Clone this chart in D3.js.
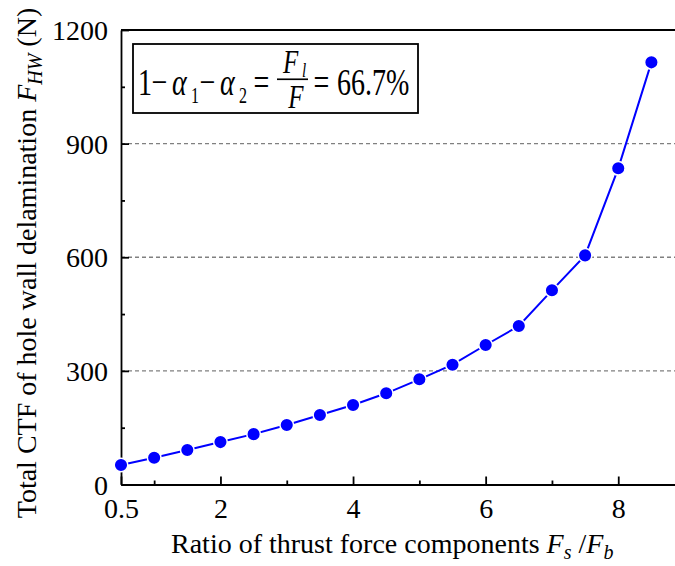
<!DOCTYPE html>
<html><head><meta charset="utf-8">
<script src="https://cdn.jsdelivr.net/npm/d3@7"></script>
<style>
html,body{margin:0;padding:0;background:#fff;}
#chart text, #chart tspan { font-family: 'Liberation Serif' !important; }
</style></head>
<body>
<svg id="chart" width="675" height="566" style="font-family:'Liberation Serif'"></svg>
<script>
// ---- data ----
const ratios = [0.5,1,1.5,2,2.5,3,3.5,4,4.5,5,5.5,6,6.5,7,7.5,8,8.5];
const ctfValues = [51.5,70.8,91,112,133,157,183.5,210,240.8,277.7,316.3,368.3,418.4,512.7,605,834.8,1114.6];
const xTickValues = [0.5,2,4,6,8];
const xTickLabels = ["0.5","2","4","6","8"];
const xMinorTicks = [1,3,5,7];
const yTickValues = [0,300,600,900,1200];
const yMinorTicks = [150,450,750,1050];
const gridValues = [300,600,900];

const svg = d3.select("#chart");
const plotLeft = 121, plotBottom = 484.5, plotTop = 30;
const unit = 66.3;
const x = d3.scaleLinear().domain([0.5, 9]).range([plotLeft, plotLeft + 8.5*unit]);
const y = d3.scaleLinear().domain([0, 1200]).range([plotBottom, plotTop]);
const plotRight = x(9);

// grid
svg.append("g").selectAll("line").data(gridValues).join("line")
  .attr("x1", plotLeft).attr("x2", plotRight)
  .attr("y1", d=>y(d)).attr("y2", d=>y(d))
  .attr("stroke", "#808080").attr("stroke-width", 1.3).attr("stroke-dasharray", "4,3");

// axes
const fs = 28;
const xAxis = d3.axisBottom(x).tickValues(xTickValues).tickFormat((d,i)=>xTickLabels[i])
  .tickSizeInner(-8).tickSizeOuter(0).tickPadding(14);
const gx = svg.append("g").attr("transform", `translate(0,${plotBottom})`).call(xAxis);
gx.selectAll("text").attr("font-size", fs).attr("dy", "0.71em");
const xMinor = d3.axisBottom(x).tickValues(xMinorTicks).tickFormat("").tickSizeInner(-4).tickSizeOuter(0);
svg.append("g").attr("transform", `translate(0,${plotBottom})`).call(xMinor).select(".domain").remove();

const yAxis = d3.axisLeft(y).tickValues(yTickValues).tickFormat(d3.format("d"))
  .tickSizeInner(-8).tickSizeOuter(0).tickPadding(13);
const gy = svg.append("g").attr("transform", `translate(${plotLeft},0)`).call(yAxis);
gy.selectAll("text").attr("font-size", fs).attr("dy", "0.34em");
const yMinor = d3.axisLeft(y).tickValues(yMinorTicks).tickFormat("").tickSizeInner(-4).tickSizeOuter(0);
svg.append("g").attr("transform", `translate(${plotLeft},0)`).call(yMinor).select(".domain").remove();

svg.selectAll(".domain, .tick line").attr("stroke", "#000").attr("stroke-width", 1.8);
svg.selectAll("g").attr("font-family", null);

// top border
svg.append("line").attr("x1", plotLeft).attr("x2", plotRight).attr("y1", y(1200)).attr("y2", y(1200))
  .attr("stroke", "#000").attr("stroke-width", 1.8);

// series
const pts = ratios.map((r,i)=>[r, ctfValues[i]]);
svg.append("path").datum(pts)
  .attr("d", d3.line().x(d=>x(d[0])).y(d=>y(d[1])))
  .attr("fill", "none").attr("stroke", "#0000ff").attr("stroke-width", 2);
svg.append("g").selectAll("circle").data(pts).join("circle")
  .attr("cx", d=>x(d[0])).attr("cy", d=>y(d[1])).attr("r", 6.8)
  .attr("fill", "#0000ff").attr("stroke", "#fff").attr("stroke-width", 1.5);

// axis titles
const xl = svg.append("text").attr("x", 171).attr("y", 553).attr("font-size", fs);
xl.append("tspan").text("Ratio of thrust force components ");
xl.append("tspan").attr("font-style", "italic").text("F");
xl.append("tspan").attr("font-style", "italic").attr("font-size", 20).attr("dy", 6).text("s");
xl.append("tspan").attr("dy", -6).text(" /");
xl.append("tspan").attr("font-style", "italic").text("F");
xl.append("tspan").attr("font-style", "italic").attr("font-size", 20).attr("dy", 6).text("b");

const yl = svg.append("text").attr("transform", "translate(36,263) rotate(-90)")
  .attr("text-anchor", "middle").attr("font-size", fs);
yl.append("tspan").text("Total CTF of hole wall delamination ");
yl.append("tspan").attr("font-style", "italic").text("F");
yl.append("tspan").attr("font-style", "italic").attr("font-size", 20).attr("dy", 6).text("HW");
yl.append("tspan").attr("dy", -6).text(" (N)");

// annotation box
svg.append("rect").attr("x", 133).attr("y", 44).attr("width", 285).attr("height", 69)
  .attr("fill", "#fff").attr("stroke", "#000").attr("stroke-width", 1.8);
const eq = svg.append("g").attr("transform", "translate(0,95) scale(1,1.38)");
const ef = 28;
eq.append("text").attr("x", 138).attr("y", 0).attr("font-size", ef).text("1");
eq.append("text").attr("x", 159.5).attr("y", 0).attr("font-size", ef).attr("text-anchor","middle").text("\u2212");
eq.append("text").attr("x", 172).attr("y", 0).attr("font-size", ef).attr("font-style","italic").text("\u03b1");
eq.append("text").attr("x", 191).attr("y", 6).attr("font-size", 16).text("1");
eq.append("text").attr("x", 207.5).attr("y", 0).attr("font-size", ef).attr("text-anchor","middle").text("\u2212");
eq.append("text").attr("x", 220).attr("y", 0).attr("font-size", ef).attr("font-style","italic").text("\u03b1");
eq.append("text").attr("x", 239).attr("y", 6).attr("font-size", 16).text("2");
eq.append("text").attr("x", 261.5).attr("y", 0).attr("font-size", ef).attr("text-anchor","middle").text("=");
eq.append("text").attr("x", 283).attr("y", -16).attr("font-size", 25).attr("font-style","italic").text("F");
eq.append("text").attr("x", 302).attr("y", -13).attr("font-size", 15).attr("font-style","italic").text("l");
eq.append("line").attr("x1", 277).attr("x2", 308).attr("y1", -11.4).attr("y2", -11.4).attr("stroke","#000").attr("stroke-width", 1.2);
eq.append("text").attr("x", 296).attr("y", 9.3).attr("font-size", 25).attr("font-style","italic").attr("text-anchor","middle").text("F");
eq.append("text").attr("x", 321.5).attr("y", 0).attr("font-size", ef).attr("text-anchor","middle").text("=");
eq.append("text").attr("x", 337).attr("y", 0).attr("font-size", ef).text("66.7%");

svg.selectAll("text").attr("fill", "#000");
</script>
</body></html>
